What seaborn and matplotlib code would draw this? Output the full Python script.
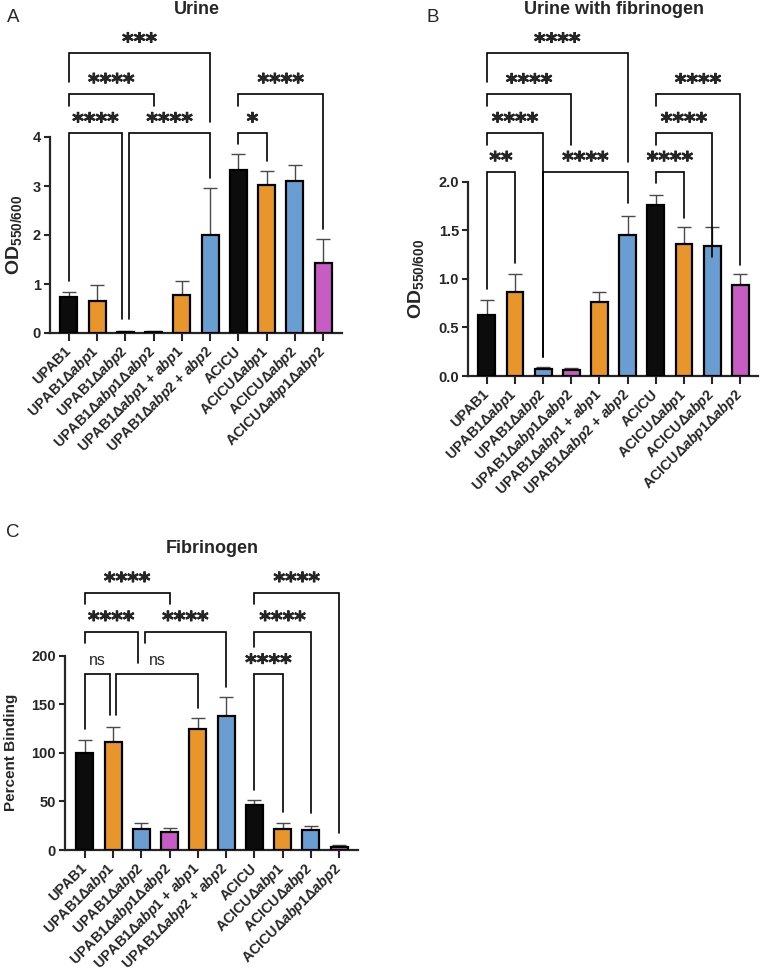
import matplotlib
matplotlib.use("Agg")
import matplotlib.pyplot as plt
import matplotlib.patheffects as pe
import numpy as np
import pandas as pd
import seaborn as sns

# Strains, in plotting order (same for all three panels).
STRAINS = [
    "UPAB1", "UPAB1Δabp1", "UPAB1Δabp2", "UPAB1Δabp1Δabp2",
    "UPAB1Δabp1 + abp1", "UPAB1Δabp2 + abp2",
    "ACICU", "ACICUΔabp1", "ACICUΔabp2", "ACICUΔabp1Δabp2",
]
TICK_LABELS = [
    "UPAB1",
    r"UPAB1Δ$\mathit{abp1}$",
    r"UPAB1Δ$\mathit{abp2}$",
    r"UPAB1Δ$\mathit{abp1}$Δ$\mathit{abp2}$",
    r"UPAB1Δ$\mathit{abp1}$ + $\mathit{abp1}$",
    r"UPAB1Δ$\mathit{abp2}$ + $\mathit{abp2}$",
    "ACICU",
    r"ACICUΔ$\mathit{abp1}$",
    r"ACICUΔ$\mathit{abp2}$",
    r"ACICUΔ$\mathit{abp1}$Δ$\mathit{abp2}$",
]
BAR_COLORS = ["#0c0c0c", "#e8952b", "#6a9ed3", "#c65cc4", "#e8952b",
              "#6a9ed3", "#0c0c0c", "#e8952b", "#6a9ed3", "#c65cc4"]

# Panel A: urine (OD550/600), mean and top of SD bar
URINE_MEAN = [0.74, 0.65, 0.02, 0.02, 0.78, 2.00, 3.33, 3.03, 3.10, 1.42]
URINE_TOP = [0.84, 0.98, 0.05, 0.04, 1.06, 2.95, 3.65, 3.31, 3.42, 1.91]

# Panel B: urine with fibrinogen
URFIB_MEAN = [0.63, 0.86, 0.07, 0.06, 0.76, 1.45, 1.76, 1.36, 1.34, 0.94]
URFIB_TOP = [0.78, 1.05, 0.09, 0.08, 0.86, 1.65, 1.86, 1.53, 1.53, 1.05]

# Panel C: fibrinogen (percent binding)
FIB_MEAN = [100, 111, 22, 19, 125, 138, 46, 22, 21, 3.5]
FIB_TOP = [113, 127, 28, 23, 136, 157, 51, 28, 25, 5]

# Significance brackets: (left bar, right bar, bracket top, left leg end,
# right leg end, label, left leg shift, right leg shift)
URINE_BRACKETS = [
    (0, 2, 4.08, 1.06, 0.29, "****", 0, -0.12),
    (2, 5, 4.08, 0.29, 3.16, "****", 0.13, 0),
    (0, 3, 4.88, 4.63, 4.63, "****", 0, 0),
    (0, 5, 5.71, 5.12, 4.31, "***", 0, 0),
    (6, 7, 4.08, 3.86, 3.51, "*", 0, 0),
    (6, 9, 4.88, 4.63, 2.12, "****", 0, 0),
]
URFIB_BRACKETS = [
    (0, 1, 2.10, 0.90, 1.16, "**", 0, 0),
    (0, 2, 2.50, 2.38, 0.20, "****", 0, 0),
    (0, 3, 2.90, 2.78, 2.38, "****", 0, 0),
    (0, 5, 3.32, 3.02, 2.20, "****", 0, 0),
    (2, 5, 2.10, 0.20, 1.78, "****", 0, 0),
    (6, 7, 2.10, 1.99, 1.63, "****", 0, 0),
    (6, 8, 2.50, 2.38, 1.22, "****", 0, 0),
    (6, 9, 2.90, 2.78, 1.14, "****", 0, 0),
]
FIB_BRACKETS = [
    (0, 1, 180.7, 125, 139, "ns", 0, -0.12),
    (1, 4, 180.7, 139, 146, "ns", 0.12, 0),
    (0, 2, 224.7, 213, 192, "****", 0, -0.13),
    (2, 5, 224.7, 213, 168, "****", 0.12, 0),
    (0, 3, 264.8, 253, 253, "****", 0, 0),
    (6, 7, 180.7, 62, 39, "****", 0, 0),
    (6, 8, 224.7, 209, 38, "****", 0, 0),
    (6, 9, 264.8, 253, 17.5, "****", 0, 0),
]

W, H = 760, 973

sns.set_style("ticks")
plt.rcParams["font.family"] = ["Liberation Sans", "DejaVu Sans"]
plt.rcParams["mathtext.fontset"] = "custom"
plt.rcParams["mathtext.rm"] = "Liberation Sans:bold"
plt.rcParams["mathtext.bf"] = "Liberation Sans:bold"
plt.rcParams["mathtext.it"] = "Liberation Sans:italic:bold"

STAR_FX = [pe.withStroke(linewidth=0.5, foreground="black")]


def px_axes(fig, left, top, right, bottom):
    return fig.add_axes([left / W, 1 - bottom / H, (right - left) / W, (bottom - top) / H])


def draw_panel(ax, means, tops, yticks, ytick_fmt, ylim_top, xlim, brackets,
               ylabel, ylabel_size, label_x):
    df = pd.DataFrame({"strain": STRAINS, "value": means})
    palette = dict(zip(STRAINS, BAR_COLORS))
    sns.barplot(data=df, x="strain", y="value", hue="strain", palette=palette,
                legend=False, width=0.6, edgecolor="black", linewidth=1.6,
                errorbar=None, ax=ax, zorder=3, saturation=1)
    x = np.arange(len(STRAINS))
    means = np.asarray(means, dtype=float)
    upper = np.asarray(tops, dtype=float) - means
    ax.errorbar(x, means, yerr=[np.zeros_like(means), upper], fmt="none",
                ecolor="#4a4a4a", elinewidth=1.0, capsize=5.2, capthick=1.0, zorder=2)

    for i, j, top, yl, yr, text, dl, dr in brackets:
        xl, xr = i + dl, j + dr
        ax.plot([xl, xl, xr, xr], [yl, top, top, yr], color="black", lw=1.2,
                clip_on=False, zorder=4, solid_joinstyle="miter")
        if text == "ns":
            ax.annotate(text, xy=((xl + xr) / 2, top), xytext=(0, 6.5),
                        textcoords="offset points", ha="center", va="baseline",
                        fontsize=11.5, annotation_clip=False)
        else:
            ax.annotate(text, xy=((xl + xr) / 2, top), xytext=(0, 3.2),
                        textcoords="offset points", ha="center", va="baseline",
                        fontsize=16, fontweight="bold", family="DejaVu Sans",
                        path_effects=STAR_FX, annotation_clip=False)

    ax.set_xlim(*xlim)
    ax.set_ylim(0, ylim_top)
    ax.set_yticks(yticks)
    ax.set_yticklabels([ytick_fmt.format(v) for v in yticks], fontsize=10.5, fontweight="bold")
    ax.set_xticks(x)
    ax.set_xticklabels(TICK_LABELS, rotation=45, ha="right", va="center",
                       rotation_mode="anchor", fontsize=10.3, fontweight="bold")
    ax.tick_params(axis="x", length=5.5, width=1.5, pad=6)
    ax.tick_params(axis="y", length=4.5, width=1.5, pad=2)
    ax.set_xlabel("")
    sns.despine(ax=ax)
    ax.spines["left"].set_bounds(yticks[0], yticks[-1])
    for side in ("left", "bottom"):
        ax.spines[side].set_linewidth(1.6)
    ax.set_ylabel(ylabel, fontsize=ylabel_size, fontweight="bold")
    frac = (yticks[-1] / 2) / ylim_top
    ax.yaxis.set_label_coords(label_x, frac)


fig = plt.figure(figsize=(W / 100, H / 100), dpi=100)

ax_a = px_axes(fig, 50, 24, 342, 333)
draw_panel(ax_a, URINE_MEAN, URINE_TOP, [0, 1, 2, 3, 4], "{:.0f}", 309 / 49,
           (-0.67, 9.67), URINE_BRACKETS, r"OD$_{\mathrm{550/600}}$", 14, -0.09)

ax_b = px_axes(fig, 468, 30, 758, 376)
draw_panel(ax_b, URFIB_MEAN, URFIB_TOP, [0, 0.5, 1.0, 1.5, 2.0], "{:.1f}", 346 / 97.2,
           (-0.67, 9.63), URFIB_BRACKETS, r"OD$_{\mathrm{550/600}}$", 14, -0.145)

ax_c = px_axes(fig, 65, 570, 358, 850)
draw_panel(ax_c, FIB_MEAN, FIB_TOP, [0, 50, 100, 150, 200], "{:.0f}", 280 / 0.9717,
           (-0.7, 9.67), FIB_BRACKETS, "Percent Binding", 11, -0.16)

# titles and panel letters
fig.text(197 / W, 1 - 13.5 / H, "Urine", ha="center", va="baseline", fontsize=13, fontweight="bold")
fig.text(614 / W, 1 - 13.5 / H, "Urine with fibrinogen", ha="center", va="baseline",
         fontsize=13, fontweight="bold")
fig.text(212 / W, 1 - 553 / H, "Fibrinogen", ha="center", va="baseline", fontsize=13, fontweight="bold")
fig.text(7 / W, 1 - 22 / H, "A", ha="left", va="baseline", fontsize=13.5)
fig.text(427 / W, 1 - 22 / H, "B", ha="left", va="baseline", fontsize=13.5)
fig.text(6 / W, 1 - 537 / H, "C", ha="left", va="baseline", fontsize=13.5)

fig.savefig("out.png", dpi=100)
plt.close(fig)
